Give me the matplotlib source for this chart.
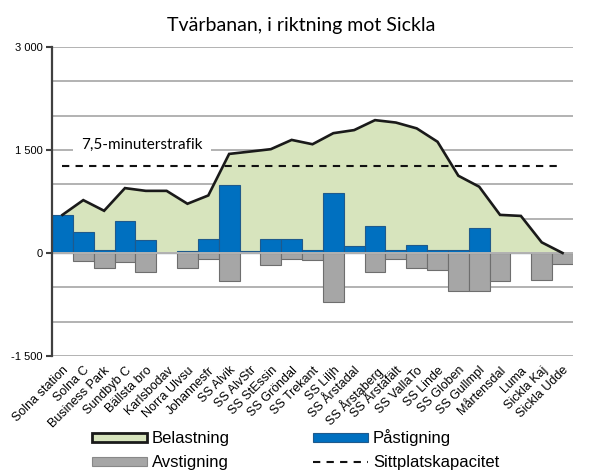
import numpy as np
import matplotlib
matplotlib.use("Agg")
from matplotlib import pyplot as plt
from matplotlib.patches import Patch
from matplotlib.lines import Line2D
from matplotlib.ticker import MultipleLocator, FuncFormatter

stations = ["Solna station", "Solna C", "Business Park", "Sundbyb C", "Bällsta bro",
            "Karlsbodav", "Norra Ulvsu", "Johannesfr", "SS Alvik", "SS AlvStr",
            "SS StEssin", "SS Gröndal", "SS Trekant", "SS Liljh", "SS Årstadal",
            "SS Årstaberg", "SS Årstafält", "SS VallaTo", "SS Linde", "SS Globen",
            "SS Gullmpl", "Mårtensdal", "Luma", "Sickla Kaj", "Sickla Udde"]
belastning = [555, 770, 615, 945, 905, 905, 717, 838, 1443, 1477, 1512, 1647, 1584,
              1745, 1790, 1935, 1900, 1815, 1620, 1125, 965, 555, 540, 155, 0]
pastigning = [555, 310, 45, 470, 190, 0, 35, 205, 985, 35, 205, 205, 40,
              880, 95, 400, 50, 120, 40, 50, 370, 0, 0, 0, 0]
avstigning = [0, 110, 215, 135, 270, 0, 215, 85, 405, 0, 175, 90, 105,
              720, 0, 270, 85, 220, 250, 560, 560, 410, 0, 400, 160]
sittplats = 1270

green = "#D7E4BD"
blue = "#0070C0"
grey = "#A6A6A6"
gridc = "#B2B2B2"

x = np.arange(len(stations))
fig = plt.figure(figsize=(5.91, 4.73), dpi=100)
ax = fig.add_axes([0.088, 0.2474, 0.8815, 0.6532])

# gridlines every 500
for v in range(-1500, 3001, 500):
    ax.axhline(v, color=gridc, lw=1.4, zorder=0)

ax.fill_between(x, belastning, 0, color=green, lw=0, zorder=1)
ax.bar(x, pastigning, width=1.0, color=blue, edgecolor="#1F5A8C", lw=0.8, zorder=2)
ax.bar(x, -np.array(avstigning), width=1.0, color=grey, edgecolor="#6E6E6E", lw=0.8, zorder=2)
ax.axhline(0, color=gridc, lw=1.4, zorder=2.5)
ax.plot(x, belastning, color="#1A1A1A", lw=1.9, zorder=4, solid_joinstyle="miter")
ax.plot(x, [sittplats] * len(x), color="#111111", lw=1.5, ls=(0, (3.5, 3)), zorder=4)

ax.text(0.9, 1580, "7,5-minuterstrafik", fontsize=11, family="Lato", va="center", ha="left",
        zorder=5, bbox=dict(facecolor="white", edgecolor="none", pad=6))

ax.set_xlim(-0.5, len(x) - 0.5)
ax.set_ylim(-1500, 3000)
ax.yaxis.set_major_locator(MultipleLocator(1500))
ax.yaxis.set_major_formatter(FuncFormatter(lambda v, p: "{:,}".format(int(v)).replace(",", " ")))
ax.set_xticks(x)
ax.set_xticklabels(stations, rotation=45, ha="right", rotation_mode="anchor",
                   fontsize=9, family="Liberation Sans")
ax.tick_params(axis="x", length=0, pad=6)
ax.tick_params(axis="y", length=4, width=1.5, color="#404040", labelsize=8, pad=3)
for lab in ax.get_yticklabels():
    lab.set_family("Liberation Sans")
for s in ["top", "right", "bottom"]:
    ax.spines[s].set_visible(False)
ax.spines["left"].set_color("#404040")
ax.spines["left"].set_linewidth(1.6)
ax.set_facecolor("none")

fig.suptitle("Tvärbanan, i riktning mot Sickla", x=0.51, y=0.965, fontsize=14, family="Lato")

handles = [Patch(facecolor=green, edgecolor="#1A1A1A", lw=2),
           Patch(facecolor=grey, edgecolor="#888888", lw=0.8),
           Patch(facecolor=blue, edgecolor="#1F5A8C", lw=0.8),
           Line2D([0], [0], color="#111111", lw=1.5, ls=(0, (3.5, 3)))]
labels = ["Belastning", "Avstigning", "Påstigning", "Sittplatskapacitet"]
fig.legend(handles, labels, ncol=2, loc="upper left", bbox_to_anchor=(0.155, 0.092),
           frameon=False, prop={"family": "Liberation Sans", "size": 12},
           handlelength=3.3, handleheight=0.4, handletextpad=0.3,
           columnspacing=5.0, labelspacing=0.53, borderpad=0, borderaxespad=0)

fig.savefig("out.png", dpi=100)
